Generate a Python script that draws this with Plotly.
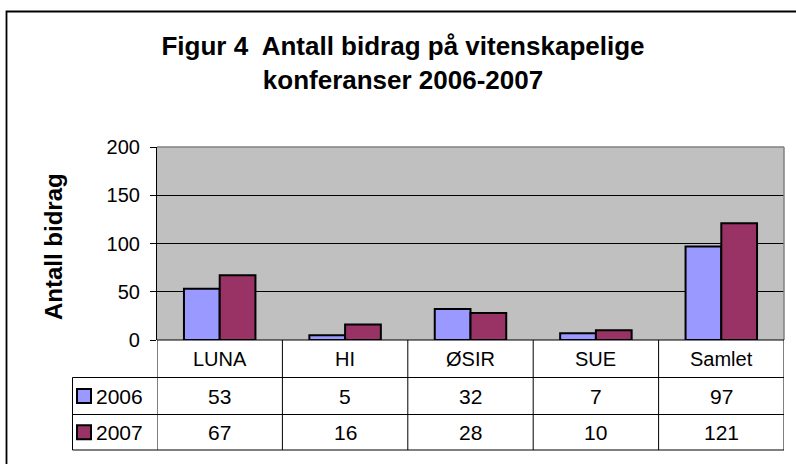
import plotly.graph_objects as go

# ---- data ----
categories = ["LUNA", "HI", "ØSIR", "SUE", "Samlet"]
series_names = ["2006", "2007"]
values_2006 = [53, 5, 32, 7, 97]
values_2007 = [67, 16, 28, 10, 121]
y_ticks = [0, 50, 100, 150, 200]
title_text = "Figur 4  Antall bidrag på vitenskapelige<br>konferanser 2006-2007"
y_title = "Antall bidrag"

colors = ["#9999FF", "#993366"]
FONT = "Liberation Sans, Arial, sans-serif"
W, H = 796, 464


def px(x):
    return x / W


def py(y):
    return 1 - y / H


# plot area in screen pixels
PL, PR, PT, PB = 157, 784, 147, 340
# table rows
ROW1, ROW2, ROW3 = 377.5, 414.5, 450
TBL_LEFT = 72.5

fig = go.Figure()
for name, vals, col in zip(series_names, [values_2006, values_2007], colors):
    fig.add_trace(go.Bar(
        x=categories, y=vals, name=name,
        marker=dict(color=col, line=dict(color="black", width=2)),
        hoverinfo="x+y+name",
    ))

shapes = []
annotations = []

# outer chart border
shapes.append(dict(type="rect", xref="paper", yref="paper",
                   x0=px(6.5), x1=px(803), y0=py(471), y1=py(11.5),
                   line=dict(color="black", width=1.8), layer="below"))

# plot area top/right border in gray
shapes.append(dict(type="line", xref="paper", yref="paper",
                   x0=px(PL), x1=px(PR), y0=py(PT), y1=py(PT),
                   line=dict(color="#808080", width=1.5), layer="above"))
shapes.append(dict(type="line", xref="paper", yref="paper",
                   x0=px(PR), x1=px(PR), y0=py(PT), y1=py(PB),
                   line=dict(color="#808080", width=1.5), layer="above"))

# data table: horizontal lines
for yy in [ROW1, ROW2, ROW3]:
    shapes.append(dict(type="line", xref="paper", yref="paper",
                       x0=px(TBL_LEFT), x1=px(PR), y0=py(yy), y1=py(yy),
                       line=dict(color="black", width=1)))
# x axis line (top of category row)
shapes.append(dict(type="line", xref="paper", yref="paper",
                   x0=px(PL), x1=px(PR), y0=py(PB), y1=py(PB),
                   line=dict(color="black", width=1.2)))
# vertical lines at category boundaries
for i in range(len(categories) + 1):
    shapes.append(dict(type="line", xref="x", yref="paper",
                       x0=i - 0.5, x1=i - 0.5, y0=py(ROW3), y1=py(PB),
                       line=dict(color="black", width=1)))
# left border of row-label column
shapes.append(dict(type="line", xref="paper", yref="paper",
                   x0=px(TBL_LEFT), x1=px(TBL_LEFT), y0=py(ROW3), y1=py(ROW1),
                   line=dict(color="black", width=1)))

# category labels
for c in categories:
    annotations.append(dict(x=c, xref="x", y=py((PB + ROW1) / 2), yref="paper",
                            text=c, showarrow=False,
                            font=dict(family=FONT, size=20, color="black"),
                            xanchor="center", yanchor="middle"))

# value rows + legend keys
row_centers = [(ROW1 + ROW2) / 2, (ROW2 + ROW3) / 2]
for name, vals, col, yc in zip(series_names, [values_2006, values_2007], colors, row_centers):
    for c, v in zip(categories, vals):
        annotations.append(dict(x=c, xref="x", y=py(yc), yref="paper",
                                text=str(v), showarrow=False,
                                font=dict(family=FONT, size=21, color="black"),
                                xanchor="center", yanchor="middle"))
    annotations.append(dict(x=px(94), xref="paper", y=py(yc), yref="paper",
                            text=name, showarrow=False,
                            font=dict(family=FONT, size=21, color="black"),
                            xanchor="left", yanchor="middle"))
    shapes.append(dict(type="rect", xref="paper", yref="paper",
                       x0=px(77), x1=px(91), y0=py(yc + 7), y1=py(yc - 7),
                       fillcolor=col, line=dict(color="black", width=2)))

# y axis title
annotations.append(dict(x=px(53), xref="paper", y=py(247), yref="paper",
                        text="<b>" + y_title + "</b>", showarrow=False, textangle=-90,
                        font=dict(family=FONT, size=24, color="black"),
                        xanchor="center", yanchor="middle"))

fig.update_layout(
    width=W, height=H,
    margin=dict(l=0, r=0, t=0, b=0, autoexpand=False),
    paper_bgcolor="white",
    plot_bgcolor="#C0C0C0",
    showlegend=False,
    barmode="group",
    bargap=0.43,
    bargroupgap=0,
    title=dict(text="<b>" + title_text + "</b>", x=px(403), xanchor="center",
               y=py(55), yanchor="middle",
               font=dict(family=FONT, size=26, color="black")),
    xaxis=dict(domain=[px(PL), px(PR)], range=[-0.5, len(categories) - 0.5],
               showticklabels=False, showgrid=False, zeroline=False,
               showline=False, ticks="", fixedrange=True),
    yaxis=dict(domain=[py(PB), py(PT)], range=[0, 200], tickvals=y_ticks,
               showgrid=True, gridcolor="black", gridwidth=1,
               zeroline=False, showline=True, linecolor="black", linewidth=1.2,
               ticks="outside", ticklen=6, tickcolor="black", tickwidth=1,
               tickfont=dict(family=FONT, size=20, color="black"),
               ticklabelstandoff=6, automargin=False, fixedrange=True),
    shapes=shapes,
    annotations=annotations,
)

fig.write_html("out.html",
               config={"displayModeBar": False},
               post_script="document.body.style.margin='0';"
                           "document.body.style.overflow='hidden';")
